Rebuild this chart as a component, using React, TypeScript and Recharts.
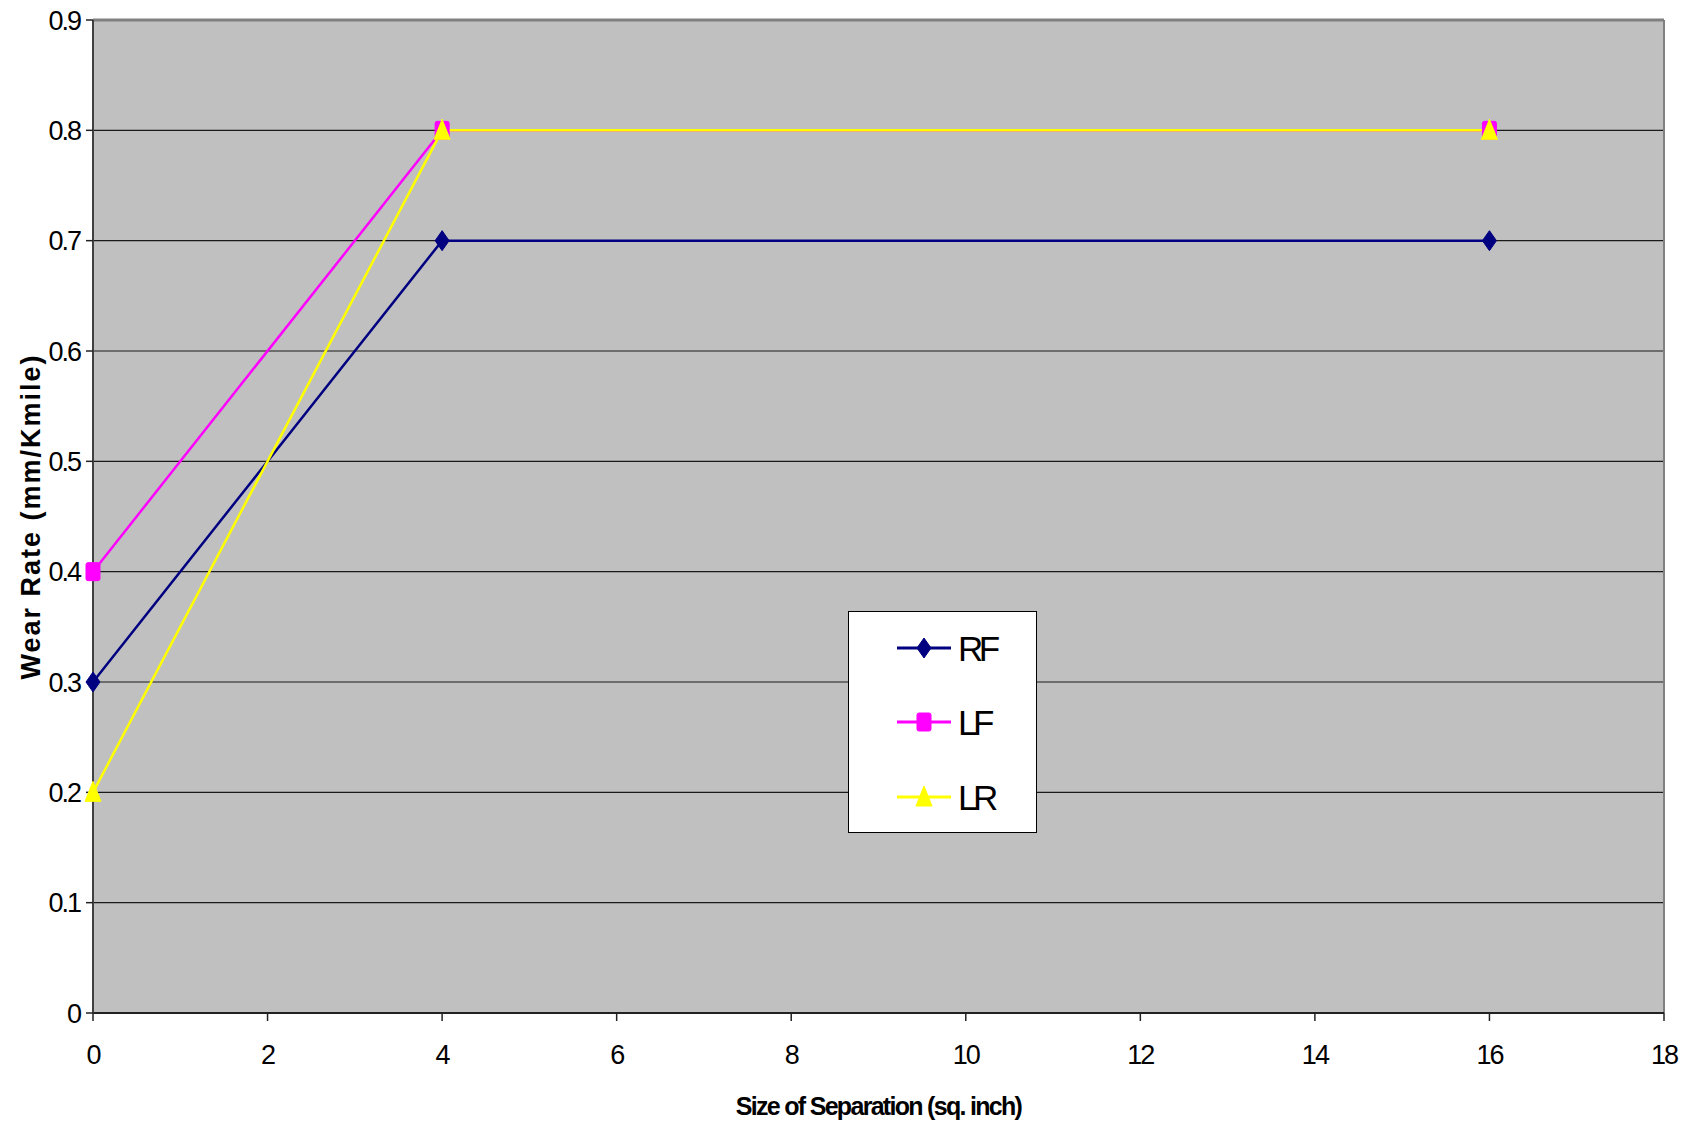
import React from "react";
import {
  LineChart,
  Line,
  XAxis,
  YAxis,
  CartesianGrid,
  ReferenceLine,
} from "recharts";

const xValues = [0, 4, 16];
const rfValues = [0.3, 0.7, 0.7];
const lfValues = [0.4, 0.8, 0.8];
const lrValues = [0.2, 0.8, 0.8];
const xTicks = [0, 2, 4, 6, 8, 10, 12, 14, 16, 18];
const yTicks = [0, 0.1, 0.2, 0.3, 0.4, 0.5, 0.6, 0.7, 0.8, 0.9];
const seriesNames = ["RF", "LF", "LR"];
const seriesColors = ["#000080", "#FF00FF", "#FFFF00"];

const data = xValues.map((x, i) => ({
  x,
  RF: rfValues[i],
  LF: lfValues[i],
  LR: lrValues[i],
}));

const FONT = "'Liberation Sans', Arial, sans-serif";

function markerShape(kind: string, cx: number, cy: number, color: string, key?: any) {
  if (kind === "RF") {
    return (
      <polygon
        key={key}
        points={`${cx},${cy - 10} ${cx + 7},${cy} ${cx},${cy + 10} ${cx - 7},${cy}`}
        fill={color}
        stroke={color}
      />
    );
  }
  if (kind === "LF") {
    return (
      <rect key={key} x={cx - 7} y={cy - 9} width={14} height={18} rx={2} fill={color} stroke={color} />
    );
  }
  return (
    <polygon
      key={key}
      points={`${cx},${cy - 11} ${cx + 8},${cy + 9} ${cx - 8},${cy + 9}`}
      fill={color}
      stroke={color}
    />
  );
}

const makeDot = (kind: string, color: string) => (props: any) => {
  const { cx, cy, key, index } = props;
  return markerShape(kind, cx, cy, color, key ?? `${kind}-${index}`);
};

const LegendBox = () => (
  <div
    style={{
      position: "absolute",
      left: 848,
      top: 611,
      width: 189,
      height: 222,
      boxSizing: "border-box",
      background: "#FFFFFF",
      border: "1px solid #000",
    }}
  >
    <svg width={187} height={220} style={{ display: "block" }}>
      {seriesNames.map((name, i) => {
        const cy = [36, 110, 185][i];
        return (
          <g key={name}>
            <line x1={48} x2={102} y1={cy} y2={cy} stroke={seriesColors[i]} strokeWidth={3} />
            {markerShape(name, 75, cy, seriesColors[i])}
            <text
              x={109}
              y={cy}
              dy="0.36em"
              fontFamily={FONT}
              fontSize={35}
              letterSpacing={-4.5}
              fill="#000"
            >
              {name}
            </text>
          </g>
        );
      })}
    </svg>
  </div>
);

const YTitle = (props: any) => {
  const vb = props.viewBox || {};
  const cx = 40;
  const cy = vb.y + vb.height / 2;
  return (
    <text
      x={cx}
      y={cy}
      transform={`rotate(-90, ${cx}, ${cy})`}
      textAnchor="middle"
      fontFamily={FONT}
      fontWeight="bold"
      fontSize={27}
      letterSpacing={2}
      fill="#000"
    >
      Wear Rate (mm/Kmile)
    </text>
  );
};

const XTitle = (props: any) => {
  const vb = props.viewBox || {};
  const cx = vb.x + vb.width / 2;
  return (
    <text
      x={cx}
      y={1115}
      textAnchor="middle"
      fontFamily={FONT}
      fontWeight="bold"
      fontSize={25}
      letterSpacing={-1.7}
      fill="#000"
    >
      Size of Separation (sq. inch)
    </text>
  );
};

export default function App() {
  return (
    <div style={{ position: "absolute", left: 0, top: 0, width: 1696, height: 1126, background: "#fff" }}>
      <LineChart
        width={1696}
        height={1126}
        data={data}
        margin={{ top: 20, right: 32, left: 0, bottom: 0 }}
      >
        <CartesianGrid horizontal vertical={false} fill="#C0C0C0" stroke="#1a1a1a" strokeWidth={1.2} />
        <XAxis
          dataKey="x"
          type="number"
          domain={[0, 18]}
          ticks={xTicks}
          height={113}
          tickSize={8}
          tickMargin={24}
          axisLine={{ stroke: "#222", strokeWidth: 2 }}
          tickLine={{ stroke: "#222", strokeWidth: 1.5 }}
          tick={{ fill: "#000", fontSize: 27, fontFamily: FONT, letterSpacing: -2 }}
          label={<XTitle />}
        />
        <YAxis
          type="number"
          domain={[0, 0.9]}
          ticks={yTicks}
          width={93}
          tickSize={7}
          tickMargin={6}
          axisLine={{ stroke: "#404040", strokeWidth: 2 }}
          tickLine={{ stroke: "#222", strokeWidth: 1.5 }}
          tick={{ fill: "#000", fontSize: 27, fontFamily: FONT, letterSpacing: -2 }}
          label={<YTitle />}
        />
        <ReferenceLine y={0.9} stroke="#808080" strokeWidth={3} />
        <ReferenceLine x={18} stroke="#808080" strokeWidth={2} />
        <Line
          dataKey="RF"
          stroke={seriesColors[0]}
          strokeWidth={2.5}
          dot={makeDot("RF", seriesColors[0])}
          activeDot={false}
          isAnimationActive={false}
        />
        <Line
          dataKey="LF"
          stroke={seriesColors[1]}
          strokeWidth={2.5}
          dot={makeDot("LF", seriesColors[1])}
          activeDot={false}
          isAnimationActive={false}
        />
        <Line
          dataKey="LR"
          stroke={seriesColors[2]}
          strokeWidth={2.5}
          dot={makeDot("LR", seriesColors[2])}
          activeDot={false}
          isAnimationActive={false}
        />
      </LineChart>
      <LegendBox />
    </div>
  );
}
